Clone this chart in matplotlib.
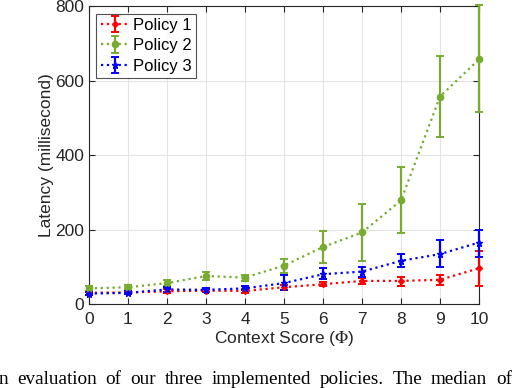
###############################################################################
### Latency vs. context score for the three policies
###############################################################################

#------------------------------------------------------------------------------
### Import packages
import matplotlib
matplotlib.use('Agg')
import matplotlib.pyplot as plt


#------------------------------------------------------------------------------
### Data

context_score = [0, 1, 2, 3, 4, 5, 6, 7, 8, 9, 10]

# Policy 1 (red)
p1_med = [30, 31, 34, 36, 35, 45, 53, 62, 62, 65, 96]
p1_lo  = [25, 27, 29, 31, 30, 38, 48, 55, 48, 51, 49]
p1_hi  = [35, 35, 39, 41, 40, 52, 58, 70, 73, 78, 143]

# Policy 2 (green)
p2_med = [42, 45, 56, 75, 71, 103, 153, 192, 278, 557, 657]
p2_lo  = [36, 39, 48, 65, 63, 82, 109, 116, 190, 449, 515]
p2_hi  = [48, 51, 64, 85, 79, 122, 197, 268, 368, 667, 802]

# Policy 3 (blue)
p3_med = [28, 30, 39, 38, 42, 56, 80, 87, 116, 134, 165]
p3_lo  = [24, 26, 33, 33, 37, 38, 66, 73, 100, 98, 127]
p3_hi  = [32, 34, 45, 43, 47, 78, 96, 100, 133, 173, 200]

series_labels = ['Policy 1', 'Policy 2', 'Policy 3']
y_ticks = [0, 200, 400, 600, 800]

# Cut-off, justified caption line of the paper under the figure
caption = 'n evaluation of our three implemented policies. The median of'


#------------------------------------------------------------------------------
### Style

FIG_W, FIG_H = 514, 388
COLORS = ['#ff0000', '#77ac30', '#0000ff']
MARKERS = ['D', 'o', '*']
MSIZES = [3, 4.5, 5]
AXIS_COL = '#262626'
FONT_SIZE = 12.5

plt.rcParams['font.family'] = ['Liberation Sans', 'DejaVu Sans']
plt.rcParams['mathtext.fontset'] = 'stix'


#------------------------------------------------------------------------------
### Plot

fig = plt.figure(figsize=(FIG_W / 100, FIG_H / 100), dpi=100)
ax = fig.add_axes([0.173, 0.2165, 0.759, 0.768])

series = [(p1_med, p1_lo, p1_hi), (p2_med, p2_lo, p2_hi), (p3_med, p3_lo, p3_hi)]
for (med, lo, hi), col, mk, ms, lab in zip(series, COLORS, MARKERS, MSIZES, series_labels):
	yerr = [[m - l for m, l in zip(med, lo)], [h - m for m, h in zip(med, hi)]]
	ax.errorbar(context_score, med, yerr=yerr, color=col, linestyle=':', linewidth=1.6,
		marker=mk, markersize=ms, elinewidth=1.6, capsize=3, capthick=1.4,
		label=lab, clip_on=False, zorder=3)

# Axis limits, ticks and grid
ax.set_xlim(0, 10)
ax.set_ylim(0, 800)
ax.set_xticks(context_score)
ax.set_yticks(y_ticks)
ax.grid(True, color='#e3e3e3', linewidth=0.8)
ax.set_axisbelow(True)
ax.tick_params(direction='in', colors=AXIS_COL, labelsize=FONT_SIZE, length=4,
	top=True, right=True, labelcolor=AXIS_COL)
ax.tick_params(axis='x', pad=6)
for sp in ax.spines.values():
	sp.set_color(AXIS_COL)
	sp.set_linewidth(0.8)

ax.set_xlabel(r'Context Score ($\Phi$)', fontsize=FONT_SIZE, color=AXIS_COL, labelpad=1)
ax.set_ylabel('Latency (millisecond)', fontsize=FONT_SIZE, color=AXIS_COL, labelpad=1)

leg = ax.legend(loc='upper left', fontsize=12, frameon=True, fancybox=False,
	edgecolor=AXIS_COL, handlelength=1.7, borderpad=0.25, labelspacing=0.33,
	handletextpad=0.25, borderaxespad=0.45)
leg.get_frame().set_linewidth(0.8)

# Caption line, justified across the full width like the paper text
words = caption.split()
texts = [fig.text(0, 3.5 / FIG_H, w, family=['Liberation Serif', 'DejaVu Serif'],
	fontsize=13.8, ha='left', va='baseline', color='black') for w in words]
renderer = fig.canvas.get_renderer()
widths = [t.get_window_extent(renderer).width for t in texts]
x_left, x_right = -1.0, 512.0
gap = (x_right - x_left - sum(widths)) / (len(words) - 1)
x = x_left
for t, w in zip(texts, widths):
	t.set_x(x / FIG_W)
	x += w + gap

fig.savefig('out.png', dpi=100)
plt.close()
